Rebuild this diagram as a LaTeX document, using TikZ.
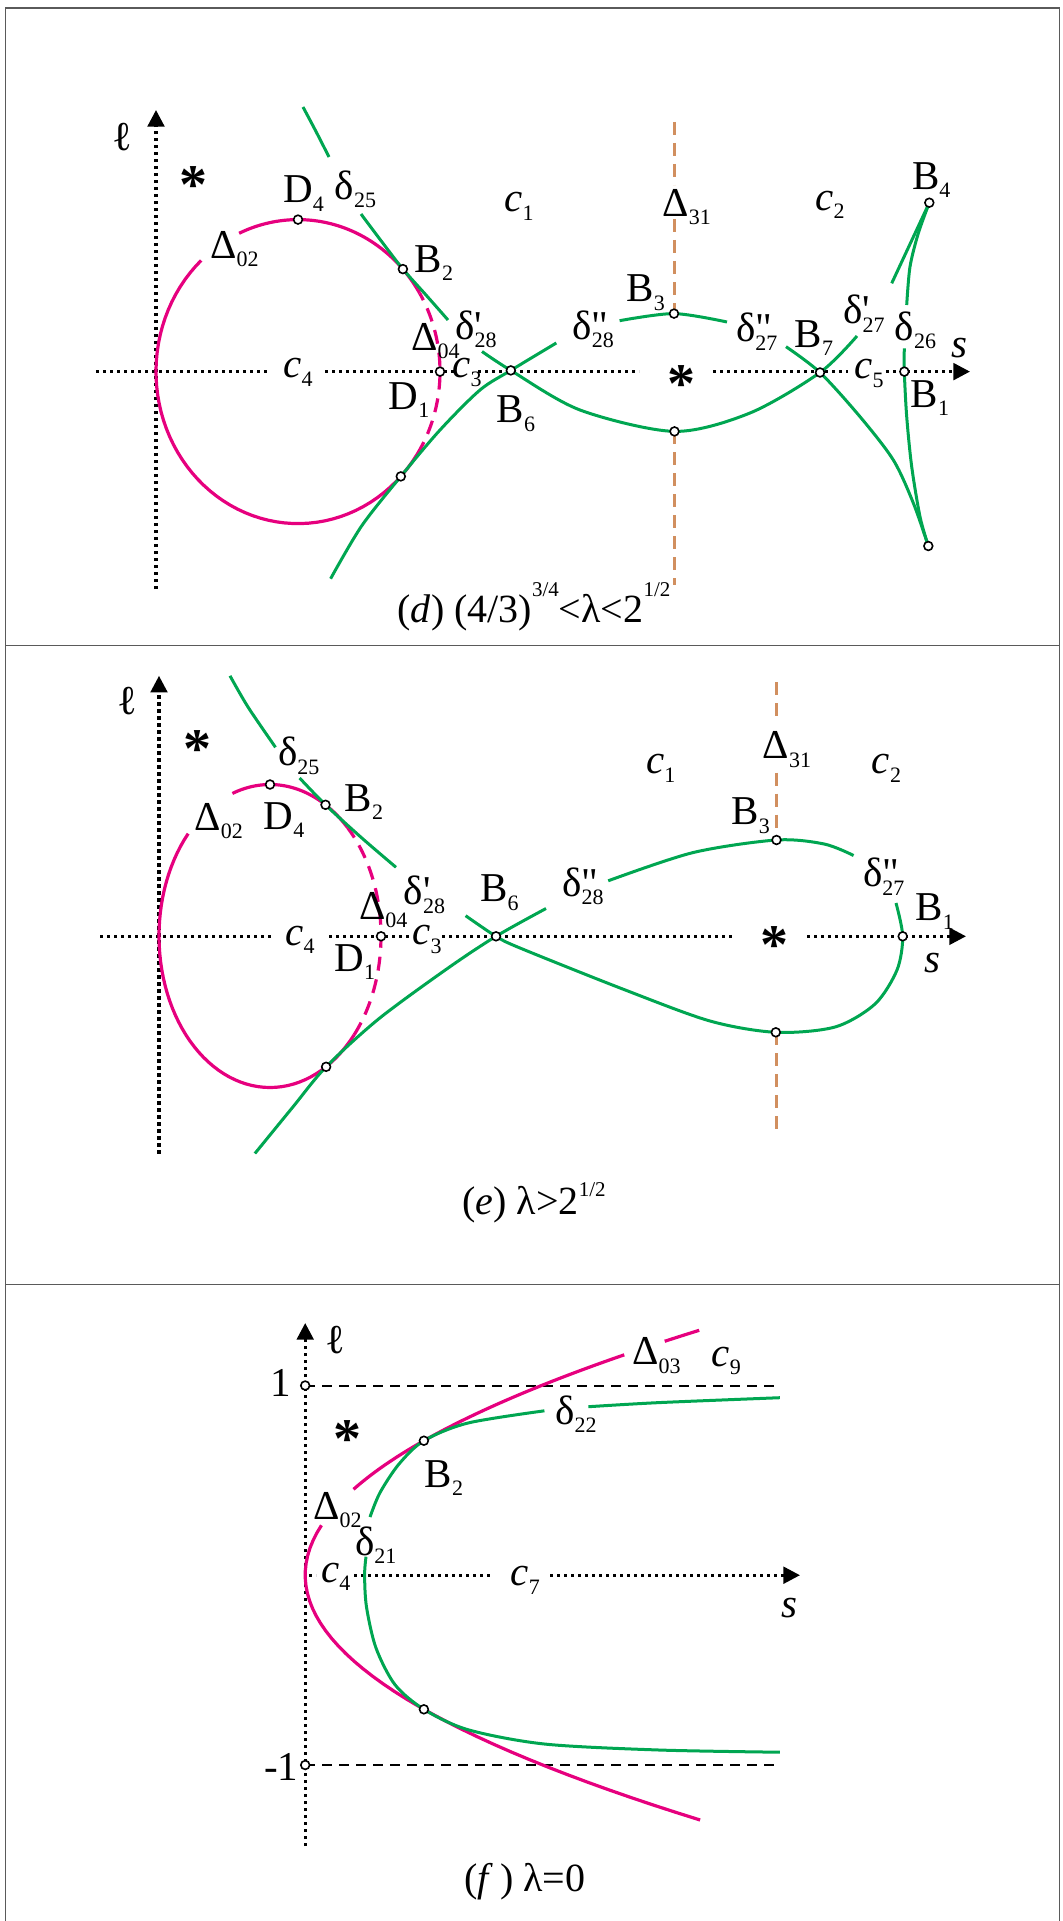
\documentclass[tikz,border=0pt]{standalone}
\usepackage{fontspec}
\setmainfont{Liberation Serif}[Ligatures=TeXOff]
\usetikzlibrary{arrows.meta}
\definecolor{Gc}{HTML}{00A651}
\definecolor{Pc}{HTML}{E6007E}
\definecolor{Bc}{HTML}{D18F5F}
\definecolor{frm}{HTML}{5A5A5A}
\tikzset{
  grn/.style={Gc, line width=1.5pt},
  pnk/.style={Pc, line width=1.6pt},
  pnkd/.style={pnk, dash pattern=on 7pt off 4.5pt},
  brn/.style={Bc, line width=1.5pt, dash pattern=on 6.5pt off 4pt},
  axs/.style={line width=1.6pt, dash pattern=on 1.6pt off 1.9pt},
  axarr/.style={axs, -{Triangle[length=8.3pt,width=8.3pt]}},
  hln/.style={line width=1pt, dash pattern=on 5pt off 3.5pt},
  opn/.style={circle, draw=black, fill=white, line width=0.8pt, inner sep=0pt, minimum size=4.4pt},
  lab/.style={inner sep=0pt, font=\fontsize{20.5}{20.5}\selectfont},
  captxt/.style={inner sep=0pt, anchor=base, font=\fontsize{20}{20}\selectfont},
  star/.style={inner sep=0pt, yshift=-4.5pt, font=\fontsize{28}{28}\selectfont\bfseries},
}
\newcommand{\lsub}[1]{\raisebox{-4.2pt}{\fontsize{11}{11}\selectfont#1}}
\newcommand{\lsup}[2]{\raisebox{#1}{\fontsize{10.5}{10.5}\selectfont#2}}
\newcommand{\lpr}[1]{\makebox[0pt][l]{#1}}
% loop arc: cx, cy, rx, ry, t0, t1, style
\newcommand{\eloop}[7]{\draw[#7] plot[domain=#5:#6, samples=60] ({#1+#3*cos(\x)},{#2-#4*sin(\x)});}
% panel (f) parabola, argument in units of 100
\newcommand{\fpar}[3]{\draw[#3] plot[domain=#1:#2, samples=40] ({305.2+65.8*(\x)*(\x)},{1575+100*\x});}

\begin{document}
\begin{tikzpicture}[x=0.5pt, y=-0.5pt]
  \useasboundingbox (0,0) rectangle (1062,1921);
  % frame
  \draw[frm, line width=0.7pt] (5.3,8) rectangle (1059.5,1930);
  \draw[frm, line width=0.7pt] (5.3,645.5) -- (1059.5,645.5);
  \draw[frm, line width=0.7pt] (5.3,1284.5) -- (1059.5,1284.5);

  % ================= (d) =================
  \coordinate (dD4) at (298,219.6);
  \coordinate (dB2) at (402.9,269.1);
  \coordinate (dD1) at (440,371.6);
  \coordinate (dB6) at (510.8,370.4);
  \coordinate (dT) at (400.8,476.4);
  \coordinate (dB3) at (674,313.6);
  \coordinate (dQ) at (674.5,431.4);
  \coordinate (dB7) at (820,372.5);
  \coordinate (dB4) at (929.3,202.7);
  \coordinate (dB1) at (904.3,371.6);
  \coordinate (dK) at (928.3,546);
  % axes
  \draw[axarr] (156,589) -- (156,110);
  \foreach \a/\b in {96/270, 325/454, 478/639, 713/848} \draw[axs] (\a,371.6) -- (\b,371.6);
  \draw[axarr] (886,371.6) -- (970,371.6);
  % Delta_31
  \foreach \a/\b in {122/185, 219/313.6, 431.4/585} \draw[brn] (674,\a) -- (674,\b);
  % Delta_02 / Delta_04 loop
  \eloop{298}{371.6}{142}{152}{133}{327}{pnk}
  \eloop{298}{371.6}{142}{152}{-33}{31}{pnkd}
  \eloop{298}{371.6}{142}{152}{31}{114.5}{pnk}
  % delta_25, delta'_28, lower arc, delta'_27
  \draw[grn] plot[smooth] coordinates {(303,107) (316,131.5) (329,157)};
  \draw[grn] plot[smooth] coordinates {(361,214) (382,242) (dB2) (426,295) (448,320)};
  \draw[grn] plot[smooth] coordinates {(482,351.5) (dB6) (580,410) (dQ) (750,413) (dB7) (857,336)};
  \draw[grn] plot[smooth] coordinates {(891.7,283.3) (910.5,243) (dB4)};
  % lower branch, delta''_28, delta''_27
  \draw[grn] plot[smooth] coordinates {(330.6,578.7) (361.6,526) (dT) (440,430) (480,390) (dB6) (556.3,343)};
  \draw[grn] plot[smooth] coordinates {(619.6,320.7) (dB3) (727,322)};
  \draw[grn] plot[smooth] coordinates {(786,346.7) (dB7) (860,416.7) (893.3,460) (913.3,503) (dK)};
  % delta_26
  \draw[grn] plot[smooth] coordinates {(dB4) (918.3,233.3) (910,266.7) (906.7,305)};
  \draw[grn] plot[smooth] coordinates {(904.3,348.3) (dB1) (906.7,416.7) (911.7,466.7) (920,516.7) (dK)};
  \foreach \p in {dD4, dB2, dD1, dB6, dT, dB3, dQ, dB7, dB4, dB1, dK}
    \node[opn] (\p o) at (\p) {};
  % labels
  \node[lab] (dLl) at (122,137) {ℓ};
  \node[star] (dSa) at (193,176.5) {*};
  \node[star] (dSb) at (681.7,375) {*};
  \node[lab] (dD4l) at (303.5,193.5) {D\lsub{4}};
  \node[lab] (dd25) at (355.5,189) {δ\lsub{25}};
  \node[lab] (dc1) at (519,206.5) {\textit{c}\lsub{1}};
  \node[lab] (dD02) at (234.5,249) {Δ\lsub{02}};
  \node[lab] (dB2l) at (434,263) {B\lsub{2}};
  \node[lab] (dd28a) at (476,329) {δ\lpr{'}\lsub{28}};
  \node[lab] (dD04) at (435.5,341) {Δ\lsub{04}};
  \node[lab] (dc4) at (298,372.5) {\textit{c}\lsub{4}};
  \node[lab] (dc3) at (467,372.5) {\textit{c}\lsub{3}};
  \node[lab] (dD1l) at (409,400) {D\lsub{1}};
  \node[lab] (dB6l) at (516,413.5) {B\lsub{6}};
  \node[lab] (dD31) at (686.7,207) {Δ\lsub{31}};
  \node[lab] (dc2) at (830,205) {\textit{c}\lsub{2}};
  \node[lab] (dB4l) at (931.3,180) {B\lsub{4}};
  \node[lab] (dB3l) at (645.7,292.5) {B\lsub{3}};
  \node[lab] (dd28b) at (593.3,329) {δ\lpr{"}\lsub{28}};
  \node[lab] (dd27b) at (756.7,331.7) {δ\lpr{"}\lsub{27}};
  \node[lab] (dB7l) at (814,338) {B\lsub{7}};
  \node[lab] (dd27a) at (864,313.5) {δ\lpr{'}\lsub{27}};
  \node[lab] (dd26) at (915.5,330) {δ\lsub{26}};
  \node[lab] (dsl) at (959,348.3) {\textit{s}};
  \node[lab] (dB1l) at (930,398.3) {B\lsub{1}};
  \node[lab] (dc5) at (869,373.5) {\textit{c}\lsub{5}};
  \node[captxt] (dcap) at (534,622) {(\textit{d}) (4/3)\lsup{13pt}{3/4}<λ<2\lsup{13pt}{1/2}};

  % ================= (e) =================
  \coordinate (eD4) at (270,784.5);
  \coordinate (eB2) at (325.5,804.8);
  \coordinate (eD1) at (381,936.3);
  \coordinate (eB6) at (496,936.3);
  \coordinate (eT) at (326.1,1066.8);
  \coordinate (eB3) at (776.5,840);
  \coordinate (eQ) at (775.8,1032.3);
  \coordinate (eB1) at (902.7,936.3);
  % axes
  \draw[axarr] (159,1153.5) -- (159,675.8);
  \foreach \a/\b in {100/274, 329/413, 442/734} \draw[axs] (\a,936.3) -- (\b,936.3);
  \draw[axarr] (807,936.3) -- (966,936.3);
  % Delta_31
  \foreach \a/\b in {682/720, 772.6/840, 1032.3/1130} \draw[brn] (776.5,\a) -- (776.5,\b);
  % loop
  \eloop{270}{936}{111}{151.5}{137.5}{319.3}{pnk}
  \eloop{270}{936}{111}{151.5}{-40.7}{45.6}{pnkd}
  \eloop{270}{936}{111}{151.5}{45.6}{109.8}{pnk}
  % green
  \draw[grn] plot[smooth] coordinates {(230,675.8) (248,707) (275.5,747.3)};
  \draw[grn] plot[smooth] coordinates {(299.6,778) (eB2) (361.6,837.8) (396,867.3)};
  \draw[grn] plot[smooth] coordinates {(465.6,915.7) (eB6) (520,948) (623.7,989.4) (710,1021) (eQ) (835,1027) (875,1004) (897,970) (eB1) (896,903)};
  \draw[grn] plot[smooth] coordinates {(254.9,1153.5) (292.7,1107.2) (eT) (378.8,1018.8) (447.7,968.3) (eB6) (546,908.5)};
  \draw[grn] plot[smooth] coordinates {(608.2,880.8) (692.9,852.6) (eB3) (824.2,844) (853.6,855.5)};
  \foreach \p in {eD4, eB2, eD1, eB6, eT, eB3, eQ, eB1}
    \node[opn] (\p o) at (\p) {};
  % labels
  \node[lab] (eLl) at (127.4,701) {ℓ};
  \node[star] (eSa) at (197,740) {*};
  \node[star] (eSb) at (774,936.5) {*};
  \node[lab] (ed25) at (298.8,755.8) {δ\lsub{25}};
  \node[lab] (eB2l) at (364,802) {B\lsub{2}};
  \node[lab] (eD4l) at (284,820) {D\lsub{4}};
  \node[lab] (eD02) at (218.7,821) {Δ\lsub{02}};
  \node[lab] (ed28a) at (424.5,894.7) {δ\lpr{'}\lsub{28}};
  \node[lab] (eD04) at (383.2,910.3) {Δ\lsub{04}};
  \node[lab] (ec4) at (300,939.8) {\textit{c}\lsub{4}};
  \node[lab] (eD1l) at (354.7,962) {D\lsub{1}};
  \node[lab] (ec3) at (427,939.5) {\textit{c}\lsub{3}};
  \node[lab] (eB6l) at (499.4,892.5) {B\lsub{6}};
  \node[lab] (ec1) at (660.8,768.4) {\textit{c}\lsub{1}};
  \node[lab] (eD31) at (787,749.5) {Δ\lsub{31}};
  \node[lab] (ec2) at (886.4,768.4) {\textit{c}\lsub{2}};
  \node[lab] (eB3l) at (750.8,815.7) {B\lsub{3}};
  \node[lab] (ed28b) at (583,886) {δ\lpr{"}\lsub{28}};
  \node[lab] (ed27b) at (883.8,876.8) {δ\lpr{"}\lsub{27}};
  \node[lab] (eB1l) at (934.8,911.5) {B\lsub{1}};
  \node[lab] (esl) at (932.3,963) {\textit{s}};
  \node[captxt] (ecap) at (534,1214) {(\textit{e}) λ>2\lsup{9pt}{1/2}};

  % ================= (f) =================
  \coordinate (fP1) at (305.2,1385.5);
  \coordinate (fM1) at (305.2,1765);
  \coordinate (fB2) at (423.9,1440.7);
  \coordinate (fT) at (423.9,1709.3);
  % axes and asymptotes
  \draw[axarr] (305.2,1846) -- (305.2,1323);
  \draw[axs] (309,1575.2) -- (316,1575.2);
  \draw[axs] (354,1575.2) -- (493,1575.2);
  \draw[axarr] (550,1575.2) -- (800,1575.2);
  \draw[hln] (fP1) -- (779.8,1385.5);
  \draw[hln] (fM1) -- (779.8,1765);
  % Delta_02 / Delta_03
  \fpar{-0.497}{2.45}{pnk}
  \fpar{-2.202}{-0.857}{pnk}
  \fpar{-2.447}{-2.337}{pnk}
  % delta_21 / delta_22
  \draw[grn] plot[smooth] coordinates {(779.8,1397.7) (659,1402.6) (588.4,1406.7)};
  \draw[grn] plot[smooth] coordinates {(544.4,1410.8) (468,1423) (fB2) (399,1464) (380,1492.6) (370,1517)};
  \draw[grn] plot[smooth] coordinates {(366,1556.7) (364.6,1575) (366.5,1607) (376,1648) (395,1684.7) (fT) (468,1729.7) (544.4,1744) (659,1750) (779.8,1752.2)};
  \foreach \p in {fP1, fM1, fB2, fT}
    \node[opn] (\p o) at (\p) {};
  % labels
  \node[lab] (fLl) at (335,1340.3) {ℓ};
  \node[lab] (fone) at (280.3,1383.3) {1};
  \node[lab] (fmone) at (281.3,1767.4) {-1};
  \node[star] (fS) at (347.3,1430) {*};
  \node[lab] (fD03) at (656.4,1355.6) {Δ\lsub{03}};
  \node[lab] (fc9) at (726.2,1360.8) {\textit{c}\lsub{9}};
  \node[lab] (fd22) at (576,1414) {δ\lsub{22}};
  \node[lab] (fB2l) at (444,1478.3) {B\lsub{2}};
  \node[lab] (fD02) at (337.5,1510) {Δ\lsub{02}};
  \node[lab] (fd21) at (375.8,1545) {δ\lsub{21}};
  \node[lab] (fc4) at (335.8,1576.7) {\textit{c}\lsub{4}};
  \node[lab] (fc7) at (525.3,1580.3) {\textit{c}\lsub{7}};
  \node[lab] (fsl) at (789.3,1608) {\textit{s}};
  \node[captxt] (fcap) at (525,1891) {(\textit{f}\,) λ=0};
\end{tikzpicture}
\end{document}
